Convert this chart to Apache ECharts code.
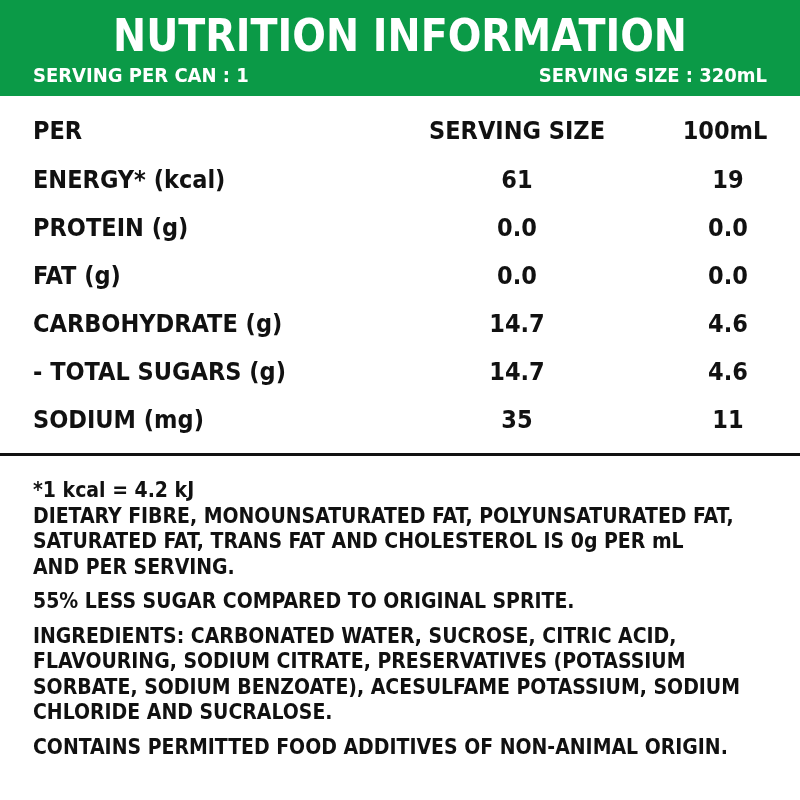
<!DOCTYPE html>
<html>
<head>
<meta charset="utf-8">
<script src="https://cdn.jsdelivr.net/npm/echarts@6/dist/echarts.min.js"></script>
<style>
  html, body { margin: 0; padding: 0; background: #fff; }
  #label { width: 800px; height: 800px; }
</style>
</head>
<body>
<div id="label"></div>
<script>
// label content
const title = 'NUTRITION INFORMATION';
const servingPerCan = 'SERVING PER CAN : 1';
const servingSize = 'SERVING SIZE : 320mL';
const columnHeads = ['PER', 'SERVING SIZE', '100mL'];
const nutrients = ['ENERGY* (kcal)', 'PROTEIN (g)', 'FAT (g)', 'CARBOHYDRATE (g)', '- TOTAL SUGARS (g)', 'SODIUM (mg)'];
const perServing = ['61', '0.0', '0.0', '14.7', '14.7', '35'];
const per100mL = ['19', '0.0', '0.0', '4.6', '4.6', '11'];
const notes = [
  ['*1 kcal = 4.2 kJ',
   'DIETARY FIBRE, MONOUNSATURATED FAT, POLYUNSATURATED FAT,',
   'SATURATED FAT, TRANS FAT AND CHOLESTEROL IS 0g PER mL',
   'AND PER SERVING.'],
  ['55% LESS SUGAR COMPARED TO ORIGINAL SPRITE.'],
  ['INGREDIENTS: CARBONATED WATER, SUCROSE, CITRIC ACID,',
   'FLAVOURING, SODIUM CITRATE, PRESERVATIVES (POTASSIUM',
   'SORBATE, SODIUM BENZOATE), ACESULFAME POTASSIUM, SODIUM',
   'CHLORIDE AND SUCRALOSE.'],
  ['CONTAINS PERMITTED FOOD ADDITIVES OF NON-ANIMAL ORIGIN.']
];

const FONT = '"Liberation Sans Narrow", "DejaVu Sans Condensed", sans-serif';
const GREEN = '#0b9a47';

const chart = echarts.init(document.getElementById('label'));

const txt = (text, x, y, size, align, color) => ({
  type: 'text', x: x, y: y,
  style: {
    text: text, fill: color || '#111', font: 'bold ' + size + 'px ' + FONT,
    align: align || 'left', verticalAlign: 'middle'
  }
});

const els = [
  { type: 'rect', shape: { x: 0, y: 0, width: 800, height: 96 }, style: { fill: GREEN } },
  txt(title, 400, 40, 44, 'center', '#fff'),
  txt(servingPerCan, 33, 77, 20, 'left', '#fff'),
  txt(servingSize, 767, 77, 20, 'right', '#fff'),
  txt(columnHeads[0], 33, 132, 25),
  txt(columnHeads[1], 517, 132, 25, 'center'),
  txt(columnHeads[2], 725, 132, 25, 'center'),
  { type: 'rect', shape: { x: 0, y: 453, width: 800, height: 3 }, style: { fill: '#111' } }
];

nutrients.forEach((n, i) => {
  const y = 181 + i * 48;
  els.push(txt(n, 33, y, 25));
  els.push(txt(perServing[i], 517, y, 25, 'center'));
  els.push(txt(per100mL[i], 728, y, 25, 'center'));
});

let y = 492;
notes.forEach((block, b) => {
  block.forEach((line) => {
    els.push(txt(line, 33, y, b === 0 && line === block[0] ? 21 : 21));
    y += 25.5;
  });
  y += 9;
});

chart.setOption({ backgroundColor: '#fff', graphic: { elements: els } });
</script>
</body>
</html>
